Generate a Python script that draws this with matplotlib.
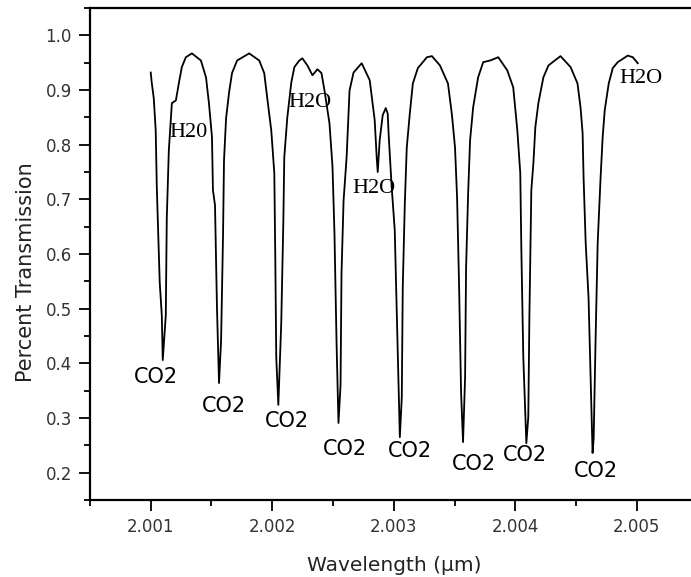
import matplotlib
matplotlib.use("Agg")
import matplotlib.pyplot as plt
from matplotlib.ticker import FixedLocator

# ---- data ----
wavelength = [
    2.001000, 2.001008, 2.001025, 2.001041, 2.001050, 2.001074, 2.001091, 2.001099,
    2.001124, 2.001132, 2.001149, 2.001165, 2.001174, 2.001207, 2.001231, 2.001256,
    2.001289, 2.001339, 2.001413, 2.001455, 2.001479, 2.001504, 2.001512, 2.001529,
    2.001545, 2.001562, 2.001579, 2.001595, 2.001603, 2.001620, 2.001645, 2.001669,
    2.001711, 2.001810, 2.001893, 2.001934, 2.001959, 2.001992, 2.002017, 2.002025,
    2.002033, 2.002050, 2.002074, 2.002091, 2.002099, 2.002124, 2.002157, 2.002182,
    2.002223, 2.002248, 2.002289, 2.002331, 2.002372, 2.002405, 2.002430, 2.002471,
    2.002496, 2.002512, 2.002529, 2.002545, 2.002562, 2.002570, 2.002587, 2.002612,
    2.002636, 2.002669, 2.002736, 2.002802, 2.002843, 2.002860, 2.002868, 2.002884,
    2.002909, 2.002934, 2.002950, 2.002959, 2.002983, 2.003008, 2.003033, 2.003050,
    2.003066, 2.003074, 2.003091, 2.003107, 2.003132, 2.003157, 2.003198, 2.003273,
    2.003314, 2.003380, 2.003446, 2.003479, 2.003504, 2.003521, 2.003537, 2.003554,
    2.003570, 2.003587, 2.003595, 2.003612, 2.003628, 2.003653, 2.003694, 2.003736,
    2.003793, 2.003860, 2.003934, 2.003983, 2.004017, 2.004041, 2.004050, 2.004066,
    2.004091, 2.004107, 2.004116, 2.004132, 2.004149, 2.004165, 2.004190, 2.004231,
    2.004273, 2.004372, 2.004455, 2.004512, 2.004537, 2.004554, 2.004562, 2.004579,
    2.004603, 2.004620, 2.004636, 2.004645, 2.004661, 2.004678, 2.004702, 2.004719,
    2.004736, 2.004769, 2.004802, 2.004843, 2.004926, 2.004967, 2.005008,
]
transmission = [
    0.932, 0.914, 0.885, 0.826, 0.722, 0.548, 0.488, 0.406,
    0.488, 0.665, 0.790, 0.845, 0.876, 0.881, 0.912, 0.942,
    0.960, 0.967, 0.954, 0.923, 0.876, 0.814, 0.717, 0.689,
    0.503, 0.364, 0.442, 0.634, 0.771, 0.848, 0.896, 0.931,
    0.954, 0.967, 0.954, 0.931, 0.885, 0.826, 0.748, 0.594,
    0.411, 0.324, 0.473, 0.656, 0.777, 0.850, 0.914, 0.942,
    0.954, 0.958, 0.945, 0.927, 0.938, 0.931, 0.899, 0.839,
    0.759, 0.638, 0.439, 0.291, 0.360, 0.565, 0.698, 0.777,
    0.899, 0.932, 0.949, 0.918, 0.845, 0.775, 0.750, 0.808,
    0.854, 0.867, 0.857, 0.814, 0.722, 0.644, 0.419, 0.265,
    0.338, 0.539, 0.693, 0.795, 0.857, 0.912, 0.940, 0.960,
    0.962, 0.945, 0.912, 0.854, 0.795, 0.704, 0.547, 0.346,
    0.256, 0.375, 0.574, 0.711, 0.808, 0.868, 0.923, 0.951,
    0.954, 0.960, 0.936, 0.905, 0.826, 0.748, 0.607, 0.411,
    0.254, 0.302, 0.484, 0.717, 0.766, 0.832, 0.876, 0.923,
    0.945, 0.962, 0.942, 0.912, 0.868, 0.821, 0.740, 0.622,
    0.519, 0.373, 0.236, 0.263, 0.446, 0.620, 0.740, 0.814,
    0.863, 0.912, 0.940, 0.951, 0.963, 0.960, 0.949,
]

# annotation labels: (text, wavelength, transmission)
h2o_labels = ["H20", "H2O", "H2O", "H2O"]
h2o_x = [2.001314, 2.002314, 2.002835, 2.005033]
h2o_y = [0.823, 0.878, 0.720, 0.921]

co2_labels = ["CO2"] * 8
co2_x = [2.001041, 2.001603, 2.002124, 2.002595, 2.003132, 2.003661, 2.004083, 2.004661]
co2_y = [0.375, 0.322, 0.294, 0.243, 0.239, 0.216, 0.232, 0.203]

x_major = [2.001, 2.002, 2.003, 2.004, 2.005]
x_major_labels = ["2.001", "2.002", "2.003", "2.004", "2.005"]
x_minor = [2.0005, 2.0015, 2.0025, 2.0035, 2.0045, 2.0055]
y_major = [0.2, 0.3, 0.4, 0.5, 0.6, 0.7, 0.8, 0.9, 1.0]
y_major_labels = ["0.2", "0.3", "0.4", "0.5", "0.6", "0.7", "0.8", "0.9", "1.0"]
y_minor = [0.15, 0.25, 0.35, 0.45, 0.55, 0.65, 0.75, 0.85, 0.95, 1.05]

# ---- figure ----
fig = plt.figure(figsize=(6.91, 5.77), dpi=100)
ax = fig.add_axes([0.1302, 0.1334, 0.8793, 0.8527])

ax.plot(wavelength, transmission, color="black", linewidth=1.3)

ax.set_xlim(2.0005, 2.0055)
ax.set_ylim(0.15, 1.05)

ax.xaxis.set_major_locator(FixedLocator(x_major))
ax.set_xticklabels(x_major_labels)
ax.xaxis.set_minor_locator(FixedLocator(x_minor))
ax.yaxis.set_major_locator(FixedLocator(y_major))
ax.set_yticklabels(y_major_labels)
ax.yaxis.set_minor_locator(FixedLocator(y_minor))

ax.tick_params(which="major", direction="out", length=8, width=1.3, pad=5,
               labelsize=12, colors="black")
ax.tick_params(which="minor", direction="out", length=4.5, width=1.3)
for lab in ax.get_xticklabels() + ax.get_yticklabels():
    lab.set_fontfamily("DejaVu Sans")
    lab.set_color("#333333")

for side in ["left", "bottom", "top", "right"]:
    ax.spines[side].set_linewidth(1.6)

ax.set_xlabel("Wavelength (µm)", fontsize=14.5, family="DejaVu Sans", labelpad=14,
              color="#222222")
ax.set_ylabel("Percent Transmission", fontsize=15, family="DejaVu Sans",
              color="#222222")
ax.yaxis.set_label_coords(-0.089, 0.463)

for t, x, y in zip(h2o_labels, h2o_x, h2o_y):
    ax.text(x, y, t, ha="center", va="center", fontsize=16,
            family="Liberation Serif", color="black")
for t, x, y in zip(co2_labels, co2_x, co2_y):
    ax.text(x, y, t, ha="center", va="center", fontsize=15,
            family="DejaVu Sans", color="black")

fig.savefig("out.png", dpi=100)
